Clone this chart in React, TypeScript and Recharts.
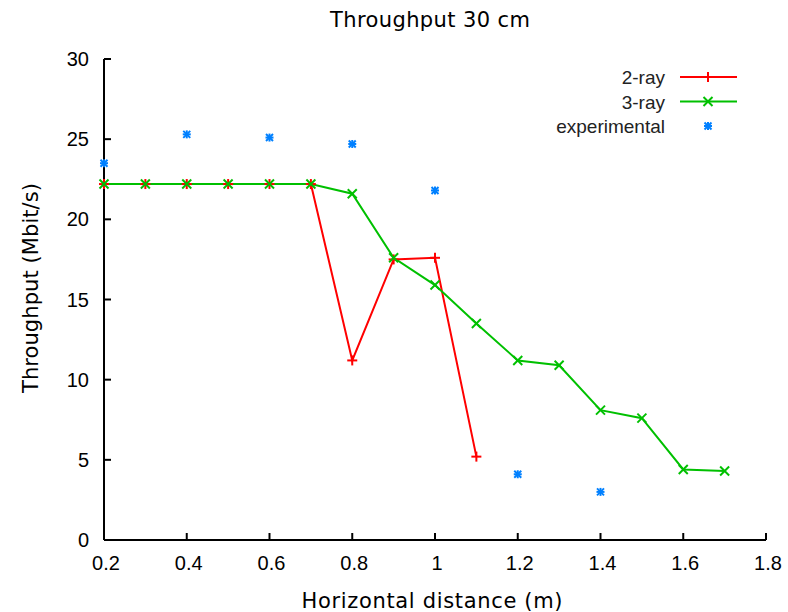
import React from 'react';
import { LineChart, Line, XAxis, YAxis } from 'recharts';

// horizontal distance (m)
const distances = [0.2, 0.3, 0.4, 0.5, 0.6, 0.7, 0.8, 0.9, 1.0, 1.1, 1.2, 1.3, 1.4, 1.5, 1.6, 1.7];
const twoRay = [22.2, 22.2, 22.2, 22.2, 22.2, 22.2, 11.2, 17.5, 17.6, 5.2, null, null, null, null, null, null];
const threeRay = [22.2, 22.2, 22.2, 22.2, 22.2, 22.2, 21.6, 17.6, 15.9, 13.5, 11.2, 10.9, 8.1, 7.6, 4.4, 4.3];
const experimental = [23.5, null, 25.3, null, 25.1, null, 24.7, null, 21.8, null, 4.1, null, 3.0, null, null, null];

const xTicks = [0.2, 0.4, 0.6, 0.8, 1.0, 1.2, 1.4, 1.6, 1.8];
const yTicks = [0, 5, 10, 15, 20, 25, 30];

const data = distances.map((d, i) => ({
  d,
  twoRay: twoRay[i],
  threeRay: threeRay[i],
  experimental: experimental[i],
}));

const RED = '#ff0000';
const GREEN = '#00c000';
const BLUE = '#0080ff';
const TICK_FONT = '"Liberation Sans", Arial, sans-serif';
const LABEL_FONT = '"DejaVu Sans", sans-serif';

const plusMark = (cx: number, cy: number, c: string, s = 5) => (
  <g stroke={c} strokeWidth={2}>
    <line x1={cx - s} y1={cy} x2={cx + s} y2={cy} />
    <line x1={cx} y1={cy - s} x2={cx} y2={cy + s} />
  </g>
);

const crossMark = (cx: number, cy: number, c: string, s = 4.5) => (
  <g stroke={c} strokeWidth={2}>
    <line x1={cx - s} y1={cy - s} x2={cx + s} y2={cy + s} />
    <line x1={cx - s} y1={cy + s} x2={cx + s} y2={cy - s} />
  </g>
);

const starMark = (cx: number, cy: number, c: string) => (
  <g stroke={c} strokeWidth={2}>
    <line x1={cx - 4} y1={cy} x2={cx + 4} y2={cy} />
    <line x1={cx} y1={cy - 4} x2={cx} y2={cy + 4} />
    <line x1={cx - 3.5} y1={cy - 3.5} x2={cx + 3.5} y2={cy + 3.5} />
    <line x1={cx - 3.5} y1={cy + 3.5} x2={cx + 3.5} y2={cy - 3.5} />
  </g>
);

const makeDot = (kind: 'plus' | 'cross' | 'star', color: string) => (props: any) => {
  const { cx, cy, value, index } = props;
  if (value == null || cx == null || cy == null) return <g key={`e-${kind}-${index}`} />;
  const mark = kind === 'plus' ? plusMark(cx, cy, color) : kind === 'cross' ? crossMark(cx, cy, color) : starMark(cx, cy, color);
  return <g key={`${kind}-${index}`}>{mark}</g>;
};

const fmt = (v: number) => String(Number(v.toFixed(1)));

const BottomTick = (props: any) => {
  const { x, y, payload } = props;
  return (
    <g>
      <line x1={x} y1={y} x2={x} y2={y - 7} stroke="#000" strokeWidth={2} />
      <text x={x + 2} y={y + 30} textAnchor="middle" fontSize={20} fontFamily={TICK_FONT} fill="#000">
        {fmt(payload.value)}
      </text>
    </g>
  );
};

const TopTick = (props: any) => {
  const { x, y } = props;
  return <line x1={x} y1={y} x2={x} y2={y + 7} stroke="#000" strokeWidth={2} />;
};

const LeftTick = (props: any) => {
  const { x, y, payload } = props;
  return (
    <g>
      <line x1={x} y1={y} x2={x + 7} y2={y} stroke="#000" strokeWidth={2} />
      <text x={x - 15} y={y + 7} textAnchor="end" fontSize={20} fontFamily={TICK_FONT} fill="#000">
        {payload.value}
      </text>
    </g>
  );
};

const RightTick = (props: any) => {
  const { x, y } = props;
  return <line x1={x} y1={y} x2={x - 7} y2={y} stroke="#000" strokeWidth={2} />;
};

const legendRows = [
  { name: '2-ray', color: RED, line: true, mark: plusMark },
  { name: '3-ray', color: GREEN, line: true, mark: crossMark },
  { name: 'experimental', color: BLUE, line: false, mark: starMark },
];

export default function App() {
  return (
    <div style={{ position: 'absolute', left: 0, top: 0, width: 788, height: 612, background: '#fff' }}>
      <LineChart width={788} height={612} data={data} margin={{ top: 59, right: 22, bottom: 0, left: 0 }}>
        <XAxis
          dataKey="d"
          type="number"
          domain={[0.2, 1.8]}
          ticks={xTicks}
          height={72}
          tickSize={0}
          tickMargin={0}
          tickLine={false}
          tick={<BottomTick />}
          axisLine={{ stroke: '#000', strokeWidth: 2 }}
          interval={0}
        />
        <XAxis
          xAxisId="top"
          dataKey="d"
          type="number"
          orientation="top"
          domain={[0.2, 1.8]}
          ticks={xTicks}
          height={0}
          tickSize={0}
          tickMargin={0}
          tickLine={false}
          tick={<TopTick />}
          axisLine={{ stroke: '#000', strokeWidth: 2 }}
          interval={0}
        />
        <YAxis
          type="number"
          domain={[0, 30]}
          ticks={yTicks}
          width={104}
          tickSize={0}
          tickMargin={0}
          tickLine={false}
          tick={<LeftTick />}
          axisLine={{ stroke: '#000', strokeWidth: 2 }}
          interval={0}
        />
        <YAxis
          yAxisId="right"
          orientation="right"
          type="number"
          domain={[0, 30]}
          ticks={yTicks}
          width={0}
          tickSize={0}
          tickMargin={0}
          tickLine={false}
          tick={<RightTick />}
          axisLine={{ stroke: '#000', strokeWidth: 2 }}
          interval={0}
        />
        <Line
          dataKey="twoRay"
          name="2-ray"
          stroke={RED}
          strokeWidth={2}
          dot={makeDot('plus', RED)}
          activeDot={false}
          isAnimationActive={false}
        />
        <Line
          dataKey="threeRay"
          name="3-ray"
          stroke={GREEN}
          strokeWidth={2}
          dot={makeDot('cross', GREEN)}
          activeDot={false}
          isAnimationActive={false}
        />
        <Line
          dataKey="experimental"
          name="experimental"
          stroke="none"
          dot={makeDot('star', BLUE)}
          activeDot={false}
          isAnimationActive={false}
        />
      </LineChart>
      <svg width={788} height={612} style={{ position: 'absolute', left: 0, top: 0, pointerEvents: 'none' }}>
        {legendRows.map((r, i) => {
          const cy = 77 + i * 24.5;
          return (
            <g key={r.name}>
              <text x={665} y={cy + 7} textAnchor="end" fontSize={19} fontFamily={TICK_FONT} fill="#222">
                {r.name}
              </text>
              {r.line && <line x1={680} y1={cy} x2={737} y2={cy} stroke={r.color} strokeWidth={2} />}
              {r.mark(708, cy, r.color)}
            </g>
          );
        })}
        <text x={430} y={27} textAnchor="middle" fontSize={21} fontFamily={LABEL_FONT} fill="#000" textLength={200}>
          Throughput 30 cm
        </text>
        <text x={432} y={608} textAnchor="middle" fontSize={21} fontFamily={LABEL_FONT} fill="#000" textLength={261}>
          Horizontal distance (m)
        </text>
        <text
          x={0}
          y={0}
          transform="translate(38,288) rotate(-90)"
          textAnchor="middle"
          fontSize={21}
          fontFamily={LABEL_FONT}
          fill="#000"
          textLength={210}
        >
          Throughput (Mbit/s)
        </text>
      </svg>
    </div>
  );
}
